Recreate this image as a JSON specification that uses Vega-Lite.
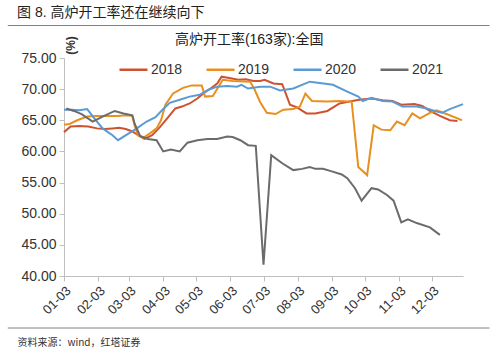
{
  "$schema": "https://vega.github.io/schema/vega-lite/v6.json",
  "width": 399,
  "height": 218,
  "autosize": {"type": "none"},
  "padding": {"left": 64, "top": 58, "right": 37, "bottom": 80},
  "background": "white",
  "config": {"view": {"stroke": null}, "font": "Liberation Sans, Noto Sans CJK SC"},
  "title": {"text": "图 8. 高炉开工率还在继续向下", "anchor": "start", "frame": "group", "dx": -47, "offset": 5, "fontSize": 14, "font": "Liberation Sans, Noto Sans CJK SC", "fontWeight": "normal", "color": "#222222"},
  "resolve": {"axis": {"x": "independent", "y": "independent"}},
  "layer": [
    {
      "data": {
        "format": {"parse": {"date": "utc:'%m-%d'"}},
        "values": [
          {"year": "2018", "date": "01-03", "value": 63.1},
          {"year": "2018", "date": "01-09", "value": 64.0},
          {"year": "2018", "date": "01-17", "value": 64.1},
          {"year": "2018", "date": "01-25", "value": 64.0},
          {"year": "2018", "date": "02-02", "value": 63.7},
          {"year": "2018", "date": "02-09", "value": 63.6},
          {"year": "2018", "date": "02-16", "value": 63.7},
          {"year": "2018", "date": "02-22", "value": 63.8},
          {"year": "2018", "date": "02-28", "value": 63.6},
          {"year": "2018", "date": "03-06", "value": 63.2},
          {"year": "2018", "date": "03-13", "value": 62.4},
          {"year": "2018", "date": "03-17", "value": 62.0},
          {"year": "2018", "date": "03-24", "value": 62.6},
          {"year": "2018", "date": "03-31", "value": 63.9},
          {"year": "2018", "date": "04-07", "value": 65.4},
          {"year": "2018", "date": "04-14", "value": 66.9},
          {"year": "2018", "date": "04-20", "value": 67.2},
          {"year": "2018", "date": "04-27", "value": 67.7},
          {"year": "2018", "date": "05-04", "value": 68.5},
          {"year": "2018", "date": "05-10", "value": 69.4},
          {"year": "2018", "date": "05-16", "value": 70.1},
          {"year": "2018", "date": "05-22", "value": 70.9},
          {"year": "2018", "date": "05-26", "value": 72.0},
          {"year": "2018", "date": "06-02", "value": 71.8},
          {"year": "2018", "date": "06-10", "value": 71.5},
          {"year": "2018", "date": "06-17", "value": 71.6},
          {"year": "2018", "date": "06-24", "value": 71.3},
          {"year": "2018", "date": "06-30", "value": 71.3},
          {"year": "2018", "date": "07-04", "value": 71.5},
          {"year": "2018", "date": "07-12", "value": 70.9},
          {"year": "2018", "date": "07-20", "value": 70.8},
          {"year": "2018", "date": "07-27", "value": 67.5},
          {"year": "2018", "date": "08-02", "value": 67.1},
          {"year": "2018", "date": "08-11", "value": 66.1},
          {"year": "2018", "date": "08-19", "value": 66.1},
          {"year": "2018", "date": "08-30", "value": 66.5},
          {"year": "2018", "date": "09-10", "value": 67.7},
          {"year": "2018", "date": "09-19", "value": 68.0},
          {"year": "2018", "date": "09-28", "value": 68.3},
          {"year": "2018", "date": "10-09", "value": 68.5},
          {"year": "2018", "date": "10-19", "value": 68.2},
          {"year": "2018", "date": "10-28", "value": 68.1},
          {"year": "2018", "date": "11-05", "value": 67.5},
          {"year": "2018", "date": "11-17", "value": 67.6},
          {"year": "2018", "date": "11-24", "value": 67.3},
          {"year": "2018", "date": "12-01", "value": 66.5},
          {"year": "2018", "date": "12-10", "value": 65.7},
          {"year": "2018", "date": "12-19", "value": 65.0},
          {"year": "2018", "date": "12-26", "value": 64.9},

          {"year": "2019", "date": "01-03", "value": 64.3},
          {"year": "2019", "date": "01-08", "value": 64.4},
          {"year": "2019", "date": "01-15", "value": 65.0},
          {"year": "2019", "date": "01-24", "value": 65.6},
          {"year": "2019", "date": "02-02", "value": 65.7},
          {"year": "2019", "date": "02-11", "value": 65.7},
          {"year": "2019", "date": "02-20", "value": 65.7},
          {"year": "2019", "date": "03-01", "value": 65.8},
          {"year": "2019", "date": "03-06", "value": 65.7},
          {"year": "2019", "date": "03-08", "value": 64.2},
          {"year": "2019", "date": "03-11", "value": 62.6},
          {"year": "2019", "date": "03-16", "value": 62.2},
          {"year": "2019", "date": "03-22", "value": 62.9},
          {"year": "2019", "date": "03-28", "value": 63.7},
          {"year": "2019", "date": "04-01", "value": 65.0},
          {"year": "2019", "date": "04-05", "value": 67.5},
          {"year": "2019", "date": "04-12", "value": 69.3},
          {"year": "2019", "date": "04-21", "value": 70.2},
          {"year": "2019", "date": "04-29", "value": 70.6},
          {"year": "2019", "date": "05-08", "value": 70.6},
          {"year": "2019", "date": "05-11", "value": 68.8},
          {"year": "2019", "date": "05-18", "value": 68.9},
          {"year": "2019", "date": "05-25", "value": 70.9},
          {"year": "2019", "date": "05-27", "value": 71.5},
          {"year": "2019", "date": "06-05", "value": 71.3},
          {"year": "2019", "date": "06-21", "value": 71.2},
          {"year": "2019", "date": "06-25", "value": 69.9},
          {"year": "2019", "date": "06-30", "value": 67.9},
          {"year": "2019", "date": "07-06", "value": 66.2},
          {"year": "2019", "date": "07-14", "value": 66.0},
          {"year": "2019", "date": "07-21", "value": 66.7},
          {"year": "2019", "date": "07-30", "value": 66.8},
          {"year": "2019", "date": "08-05", "value": 67.2},
          {"year": "2019", "date": "08-10", "value": 69.3},
          {"year": "2019", "date": "08-16", "value": 68.1},
          {"year": "2019", "date": "08-30", "value": 68.0},
          {"year": "2019", "date": "09-10", "value": 68.1},
          {"year": "2019", "date": "09-21", "value": 68.0},
          {"year": "2019", "date": "09-27", "value": 57.5},
          {"year": "2019", "date": "10-05", "value": 56.2},
          {"year": "2019", "date": "10-11", "value": 64.2},
          {"year": "2019", "date": "10-18", "value": 63.5},
          {"year": "2019", "date": "10-26", "value": 63.4},
          {"year": "2019", "date": "11-01", "value": 64.8},
          {"year": "2019", "date": "11-08", "value": 64.2},
          {"year": "2019", "date": "11-15", "value": 66.1},
          {"year": "2019", "date": "11-22", "value": 65.3},
          {"year": "2019", "date": "12-01", "value": 66.2},
          {"year": "2019", "date": "12-07", "value": 66.6},
          {"year": "2019", "date": "12-16", "value": 66.0},
          {"year": "2019", "date": "12-26", "value": 65.3},
          {"year": "2019", "date": "12-30", "value": 65.0},

          {"year": "2020", "date": "01-03", "value": 66.7},
          {"year": "2020", "date": "01-10", "value": 66.7},
          {"year": "2020", "date": "01-17", "value": 66.6},
          {"year": "2020", "date": "01-24", "value": 66.8},
          {"year": "2020", "date": "02-01", "value": 65.0},
          {"year": "2020", "date": "02-07", "value": 63.7},
          {"year": "2020", "date": "02-16", "value": 62.6},
          {"year": "2020", "date": "02-21", "value": 61.8},
          {"year": "2020", "date": "03-01", "value": 62.7},
          {"year": "2020", "date": "03-10", "value": 63.7},
          {"year": "2020", "date": "03-19", "value": 64.8},
          {"year": "2020", "date": "03-27", "value": 65.5},
          {"year": "2020", "date": "04-03", "value": 66.8},
          {"year": "2020", "date": "04-09", "value": 67.8},
          {"year": "2020", "date": "04-18", "value": 68.3},
          {"year": "2020", "date": "04-27", "value": 68.8},
          {"year": "2020", "date": "05-06", "value": 69.1},
          {"year": "2020", "date": "05-14", "value": 69.9},
          {"year": "2020", "date": "05-22", "value": 70.4},
          {"year": "2020", "date": "05-31", "value": 70.5},
          {"year": "2020", "date": "06-09", "value": 70.4},
          {"year": "2020", "date": "06-13", "value": 70.7},
          {"year": "2020", "date": "06-19", "value": 70.1},
          {"year": "2020", "date": "06-30", "value": 70.4},
          {"year": "2020", "date": "07-09", "value": 70.4},
          {"year": "2020", "date": "07-18", "value": 69.8},
          {"year": "2020", "date": "07-30", "value": 70.1},
          {"year": "2020", "date": "08-14", "value": 71.2},
          {"year": "2020", "date": "08-23", "value": 71.0},
          {"year": "2020", "date": "09-04", "value": 70.7},
          {"year": "2020", "date": "09-17", "value": 69.6},
          {"year": "2020", "date": "09-27", "value": 68.8},
          {"year": "2020", "date": "10-01", "value": 68.1},
          {"year": "2020", "date": "10-09", "value": 68.6},
          {"year": "2020", "date": "10-19", "value": 68.1},
          {"year": "2020", "date": "10-28", "value": 68.0},
          {"year": "2020", "date": "11-06", "value": 67.2},
          {"year": "2020", "date": "11-19", "value": 67.2},
          {"year": "2020", "date": "11-28", "value": 66.9},
          {"year": "2020", "date": "12-07", "value": 66.4},
          {"year": "2020", "date": "12-12", "value": 66.2},
          {"year": "2020", "date": "12-19", "value": 66.8},
          {"year": "2020", "date": "12-31", "value": 67.6},

          {"year": "2021", "date": "01-05", "value": 66.9},
          {"year": "2021", "date": "01-12", "value": 66.5},
          {"year": "2021", "date": "01-19", "value": 66.0},
          {"year": "2021", "date": "01-29", "value": 64.8},
          {"year": "2021", "date": "02-07", "value": 65.6},
          {"year": "2021", "date": "02-18", "value": 66.5},
          {"year": "2021", "date": "02-26", "value": 66.1},
          {"year": "2021", "date": "03-06", "value": 65.8},
          {"year": "2021", "date": "03-08", "value": 64.5},
          {"year": "2021", "date": "03-13", "value": 62.5},
          {"year": "2021", "date": "03-20", "value": 62.0},
          {"year": "2021", "date": "03-28", "value": 61.8},
          {"year": "2021", "date": "04-03", "value": 60.0},
          {"year": "2021", "date": "04-10", "value": 60.3},
          {"year": "2021", "date": "04-18", "value": 60.0},
          {"year": "2021", "date": "04-25", "value": 61.4},
          {"year": "2021", "date": "05-04", "value": 61.8},
          {"year": "2021", "date": "05-13", "value": 62.0},
          {"year": "2021", "date": "05-22", "value": 62.0},
          {"year": "2021", "date": "05-31", "value": 62.4},
          {"year": "2021", "date": "06-05", "value": 62.3},
          {"year": "2021", "date": "06-12", "value": 61.8},
          {"year": "2021", "date": "06-19", "value": 61.0},
          {"year": "2021", "date": "06-26", "value": 60.9},
          {"year": "2021", "date": "07-03", "value": 41.8},
          {"year": "2021", "date": "07-10", "value": 59.4},
          {"year": "2021", "date": "07-20", "value": 58.1},
          {"year": "2021", "date": "07-30", "value": 57.0},
          {"year": "2021", "date": "08-07", "value": 57.2},
          {"year": "2021", "date": "08-14", "value": 57.5},
          {"year": "2021", "date": "08-19", "value": 57.2},
          {"year": "2021", "date": "08-26", "value": 57.2},
          {"year": "2021", "date": "09-03", "value": 56.8},
          {"year": "2021", "date": "09-12", "value": 56.3},
          {"year": "2021", "date": "09-17", "value": 55.7},
          {"year": "2021", "date": "09-24", "value": 54.1},
          {"year": "2021", "date": "09-30", "value": 52.1},
          {"year": "2021", "date": "10-09", "value": 54.1},
          {"year": "2021", "date": "10-15", "value": 53.9},
          {"year": "2021", "date": "10-23", "value": 53.0},
          {"year": "2021", "date": "10-29", "value": 52.1},
          {"year": "2021", "date": "11-05", "value": 48.6},
          {"year": "2021", "date": "11-11", "value": 49.1},
          {"year": "2021", "date": "11-19", "value": 48.5},
          {"year": "2021", "date": "12-01", "value": 47.8},
          {"year": "2021", "date": "12-10", "value": 46.6}
        ]
      },
      "mark": {"type": "line", "strokeWidth": 2},
      "encoding": {
        "x": {
          "field": "date",
          "type": "temporal",
          "scale": {"type": "utc", "nice": false, "domain": [{"year": 1900, "month": 1, "date": 3, "utc": true}, {"year": 1900, "month": 12, "date": 31, "utc": true}]},
          "axis": {
            "values": [
              {"year": 1900, "month": 1, "date": 3, "utc": true},
              {"year": 1900, "month": 2, "date": 3, "utc": true},
              {"year": 1900, "month": 3, "date": 3, "utc": true},
              {"year": 1900, "month": 4, "date": 3, "utc": true},
              {"year": 1900, "month": 5, "date": 3, "utc": true},
              {"year": 1900, "month": 6, "date": 3, "utc": true},
              {"year": 1900, "month": 7, "date": 3, "utc": true},
              {"year": 1900, "month": 8, "date": 3, "utc": true},
              {"year": 1900, "month": 9, "date": 3, "utc": true},
              {"year": 1900, "month": 10, "date": 3, "utc": true},
              {"year": 1900, "month": 11, "date": 3, "utc": true},
              {"year": 1900, "month": 12, "date": 3, "utc": true}
            ],
            "labelExpr": "utcFormat(datum.value, '%m-%d')",
            "labelOverlap": false,
            "labelAngle": -45,
            "labelAlign": "right",
            "labelBaseline": "top",
            "labelFontSize": 13,
            "labelColor": "#333333",
            "labelFont": "Liberation Sans",
            "labelPadding": 3,
            "tickSize": 5,
            "tickColor": "#BFBFBF",
            "domainColor": "#BFBFBF",
            "grid": false,
            "title": "资料来源：wind，红塔证券",
            "titleFont": "Noto Sans CJK SC",
            "titleFontSize": 10,
            "titleFontWeight": "normal",
            "titleColor": "#333333",
            "titleX": -47,
            "titleY": 66,
            "titleAlign": "left",
            "titleBaseline": "middle"
          }
        },
        "y": {
          "field": "value",
          "type": "quantitative",
          "scale": {"domain": [40, 75], "nice": false, "zero": false},
          "axis": {
            "values": [40, 45, 50, 55, 60, 65, 70, 75],
            "format": ".2f",
            "labelFontSize": 14,
            "labelColor": "#333333",
            "labelFont": "Liberation Sans",
            "labelPadding": 3,
            "tickSize": 5,
            "tickColor": "#BFBFBF",
            "domainColor": "#BFBFBF",
            "grid": false,
            "title": "(%)",
            "titleFont": "Liberation Sans",
            "titleFontSize": 12,
            "titleFontWeight": "bold",
            "titleColor": "#333333",
            "titleAngle": -90,
            "titleX": 6,
            "titleY": -13,
            "titleAlign": "center",
            "titleBaseline": "middle"
          }
        },
        "color": {
          "field": "year",
          "type": "nominal",
          "scale": {"domain": ["2018", "2019", "2020", "2021"], "range": ["#CF5230", "#E8901E", "#5B9BD5", "#6B6B6B"]},
          "legend": {
            "orient": "none",
            "legendX": 54,
            "legendY": -4,
            "direction": "horizontal",
            "columns": 4,
            "title": null,
            "symbolType": "stroke",
            "symbolSize": 784,
            "symbolStrokeWidth": 2.5,
            "labelFontSize": 14,
            "labelFont": "Liberation Sans",
            "labelColor": "#333333",
            "labelOffset": 2,
            "columnPadding": 18,
            "padding": 0
          }
        }
      }
    },
    {
      "data": {"values": [{"pos": "footer"}]},
      "mark": {"type": "rule", "color": "#808080", "strokeWidth": 1, "clip": false},
      "encoding": {
        "x": {"datum": {"year": 1899, "month": 11, "date": 13, "utc": true}, "type": "temporal", "axis": null},
        "x2": {"datum": {"year": 1901, "month": 1, "date": 24, "utc": true}},
        "y": {"datum": 31.65, "type": "quantitative", "axis": null}
      }
    },
    {
      "data": {"values": [{"pos": "header"}]},
      "mark": {"type": "rect", "color": "#808080", "clip": false},
      "encoding": {
        "x": {"datum": {"year": 1899, "month": 11, "date": 13, "utc": true}, "type": "temporal", "axis": null},
        "x2": {"datum": {"year": 1901, "month": 1, "date": 24, "utc": true}},
        "y": {"datum": 80.3, "type": "quantitative", "axis": null},
        "y2": {"datum": 80.12}
      }
    },
    {
      "data": {"values": [{"pos": "title"}]},
      "mark": {"type": "text", "text": "高炉开工率(163家):全国", "align": "center", "baseline": "middle", "fontSize": 14, "font": "Liberation Sans, Noto Sans CJK SC", "color": "#222222"},
      "encoding": {
        "x": {"datum": {"year": 1900, "month": 6, "date": 20, "utc": true}, "type": "temporal", "axis": null},
        "y": {"datum": 77.9, "type": "quantitative", "axis": null}
      }
    }
  ]
}
